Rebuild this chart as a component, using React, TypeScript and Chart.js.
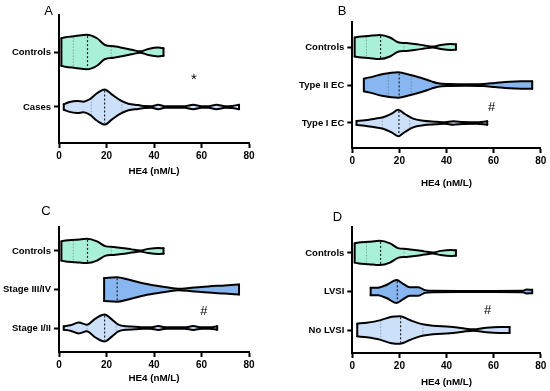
import React, { useEffect, useRef } from "react";
import { Chart, registerables } from "chart.js";

Chart.register(...registerables);
Chart.defaults.font.family = "'Liberation Sans', Arial, sans-serif";

// ---------- data ----------
const xTickValues = [0, 20, 40, 60, 80];
const axisTitle = "HE4 (nM/L)";

// Violin outlines: HE4 values and half-widths (in category units)
const controlsX = [1, 2.7, 6.9, 11.7, 16, 19.4, 23, 26.4, 30.6, 34.1, 37.6, 41.8, 44];
const controlsW = [0.25, 0.27, 0.29, 0.315, 0.25, 0.127, 0.103, 0.079, 0.042, 0.012, 0.055, 0.08, 0.07];
const controlsStats = [6, 12, 22];

const casesX = [2, 4.1, 7.6, 10.3, 13.1, 16, 19.2, 22.2, 25.7, 29.2, 33.4, 36, 39, 41.8, 44.5, 48, 53, 56.5, 60, 63, 66.3, 70, 73, 75.8];
const casesW = [0.05, 0.085, 0.11, 0.097, 0.145, 0.25, 0.32, 0.23, 0.127, 0.06, 0.036, 0.018, 0.015, 0.04, 0.015, 0.012, 0.014, 0.04, 0.015, 0.015, 0.04, 0.015, 0.02, 0.042];
const casesStats = [13.6, 19.2, 26.5];

const type2X = [4.9, 7.5, 13.1, 19.5, 24.4, 29.4, 33.6, 36.4, 41.4, 48.4, 55.5, 60.5, 66.8, 71.7, 76.4];
const type2W = [0.167, 0.2, 0.29, 0.333, 0.27, 0.184, 0.096, 0.044, 0.026, 0.018, 0.026, 0.053, 0.088, 0.096, 0.096];
const type2Stats = [15.3, 19.9, 25];

const type1X = [1.8, 5.4, 9.6, 13.1, 16.7, 19.5, 22.3, 25.8, 30.1, 35.7, 39.3, 42.8, 47, 52.7, 57.3];
const type1W = [0.053, 0.07, 0.114, 0.15, 0.245, 0.35, 0.237, 0.114, 0.06, 0.035, 0.018, 0.045, 0.026, 0.018, 0.044];
const type1Stats = [12.7, 19.8, 24.4];

const stage34X = [19, 24.3, 29.2, 34.8, 40.4, 46, 50.2, 55.8, 62.8, 69.8, 75.8];
const stage34W = [0.3, 0.32, 0.26, 0.17, 0.105, 0.052, 0.02, 0.045, 0.08, 0.105, 0.13];
const stage34Stats = [null, 24.5, null];

const stage12X = [2, 4.8, 8.3, 11.7, 15.2, 19.2, 22.2, 25, 28.5, 32, 35.5, 38.5, 41.8, 45, 49, 53, 56.5, 60, 63.5, 66.6];
const stage12W = [0.043, 0.07, 0.14, 0.087, 0.24, 0.35, 0.225, 0.087, 0.043, 0.035, 0.017, 0.017, 0.05, 0.017, 0.02, 0.017, 0.05, 0.017, 0.017, 0.043];
const stage12Stats = [11.8, 19.2, 24];

const lvsiX = [7.8, 11, 14.5, 18.8, 21.6, 24.4, 28, 30.8, 34.3, 45, 60, 72.5, 73.9, 76.4];
const lvsiW = [0.095, 0.1, 0.17, 0.3, 0.2, 0.11, 0.11, 0.035, 0.017, 0.015, 0.015, 0.017, 0.05, 0.045];
const lvsiStats = [null, 19.1, null];

const noLvsiX = [2.1, 6.1, 11.7, 16.7, 20.2, 24.4, 28.7, 34.3, 41.4, 47, 51.3, 56.9, 62.6, 66.8];
const noLvsiW = [0.165, 0.19, 0.25, 0.345, 0.36, 0.26, 0.165, 0.11, 0.087, 0.043, 0.017, 0.06, 0.078, 0.078];
const noLvsiStats = [12.1, 20.5, 30];

const catsA = ["Controls", "Cases"];
const catsB = ["Controls", "Type II EC", "Type I EC"];
const catsC = ["Controls", "Stage III/IV", "Stage I/II"];
const catsD = ["Controls", "LVSI", "No LVSI"];

const MINT = "#a9f0d8";
const LIGHT = "#cde0f9";
const MID = "#88b6f0";

type Violin = { x: number[]; w: number[]; stats: (number | null)[]; color: string };

const panels = [
  {
    key: "A", cats: catsA, letter: "A", mark: "*", markX: 56.8, markY: 0.5, markSize: 15,
    violins: [
      { x: controlsX, w: controlsW, stats: controlsStats, color: MINT },
      { x: casesX, w: casesW, stats: casesStats, color: LIGHT },
    ] as Violin[],
    left: 0, top: 0, w: 275, h: 195,
    yW: 59, padTop: 15, padRight: 26, xH: 52, titlePad: 18, yMin: -0.673, yMax: 1.655,
    letterPos: [48.5, 11],
  },
  {
    key: "B", cats: catsB, letter: "B", mark: "#", markX: 59.2, markY: 1.58, markSize: 13,
    violins: [
      { x: controlsX, w: controlsW, stats: controlsStats, color: MINT },
      { x: type2X, w: type2W, stats: type2Stats, color: MID },
      { x: type1X, w: type1W, stats: type1Stats, color: LIGHT },
    ] as Violin[],
    left: 275, top: 0, w: 275, h: 195,
    yW: 77.3, padTop: 22, padRight: 9.3, xH: 47, titlePad: 6, yMin: -0.658, yMax: 2.658,
    letterPos: [67, 11],
  },
  {
    key: "C", cats: catsC, letter: "C", mark: "#", markX: 61, markY: 1.56, markSize: 13,
    violins: [
      { x: controlsX, w: controlsW, stats: controlsStats, color: MINT },
      { x: stage34X, w: stage34W, stats: stage34Stats, color: MID },
      { x: stage12X, w: stage12W, stats: stage12Stats, color: LIGHT },
    ] as Violin[],
    left: 0, top: 195, w: 275, h: 196,
    yW: 59, padTop: 32, padRight: 26, xH: 39, titlePad: 7, yMin: -0.623, yMax: 2.623,
    letterPos: [46, 16.7],
  },
  {
    key: "D", cats: catsD, letter: "D", mark: "#", markX: 57.5, markY: 1.48, markSize: 13,
    violins: [
      { x: controlsX, w: controlsW, stats: controlsStats, color: MINT },
      { x: lvsiX, w: lvsiW, stats: lvsiStats, color: MID },
      { x: noLvsiX, w: noLvsiW, stats: noLvsiStats, color: LIGHT },
    ] as Violin[],
    left: 275, top: 195, w: 275, h: 196,
    yW: 77.3, padTop: 32, padRight: 9.3, xH: 38, titlePad: 3, yMin: -0.675, yMax: 2.597,
    letterPos: [62.5, 22.5],
  },
];

function interpW(xs: number[], ws: number[], v: number): number {
  if (v <= xs[0]) return ws[0];
  for (let k = 1; k < xs.length; k++) {
    if (v <= xs[k]) {
      const t = (v - xs[k - 1]) / (xs[k] - xs[k - 1]);
      return ws[k - 1] + t * (ws[k] - ws[k - 1]);
    }
  }
  return ws[ws.length - 1];
}

function buildDatasets(violins: Violin[]) {
  const ds: any[] = [];
  const edge = {
    showLine: true,
    borderColor: "#000",
    borderWidth: 2,
    pointRadius: 0,
    cubicInterpolationMode: "monotone",
    borderCapStyle: "round",
    borderJoinStyle: "round",
    order: 2,
  };
  violins.forEach((v, i) => {
    const upper = v.x.map((x, k) => ({ x, y: i - v.w[k] }));
    const lower = v.x.map((x, k) => ({ x, y: i + v.w[k] }));
    const n = v.x.length - 1;
    // upper edge filled down to the following (lower edge) dataset
    ds.push({ ...edge, data: upper, fill: "+1", backgroundColor: v.color });
    ds.push({ ...edge, data: lower, fill: false });
    // flat end caps
    ds.push({ ...edge, data: [upper[0], lower[0]], fill: false, cubicInterpolationMode: "default" });
    ds.push({ ...edge, data: [upper[n], lower[n]], fill: false, cubicInterpolationMode: "default" });
    v.stats.forEach((s, si) => {
      if (s === null || s === undefined) return;
      const hw = interpW(v.x, v.w, s) * 0.93;
      const median = si === 1;
      ds.push({
        data: [{ x: s, y: i - hw }, { x: s, y: i + hw }],
        showLine: true,
        fill: false,
        borderColor: median ? "#222" : "rgba(60,60,60,0.4)",
        borderWidth: median ? 1.2 : 1,
        borderDash: median ? [2, 2] : [1.5, 1.5],
        pointRadius: 0,
        order: 1,
      });
    });
  });
  return ds;
}

function Panel({ p }: { p: (typeof panels)[number] }) {
  const ref = useRef<HTMLCanvasElement>(null);
  useEffect(() => {
    if (!ref.current) return;
    const axisGrid = {
      display: true,
      drawOnChartArea: false,
      drawTicks: true,
      tickLength: 5,
      tickWidth: 2,
      tickColor: "#000",
    };
    const textPlugin = {
      id: "panelText" + p.key,
      afterDatasetsDraw(chart: any) {
        const ctx = chart.ctx;
        const xs = chart.scales.x;
        const ys = chart.scales.y;
        ctx.save();
        ctx.fillStyle = "#000";
        ctx.textAlign = "center";
        ctx.textBaseline = "middle";
        ctx.font = `${p.markSize}px 'Liberation Sans', Arial, sans-serif`;
        ctx.fillText(p.mark, xs.getPixelForValue(p.markX), ys.getPixelForValue(p.markY));
        ctx.font = "13px 'Liberation Sans', Arial, sans-serif";
        ctx.fillText(p.letter, p.letterPos[0], p.letterPos[1]);
        ctx.restore();
      },
    };
    const chart = new Chart(ref.current, {
      type: "scatter",
      data: { datasets: buildDatasets(p.violins) },
      options: {
        responsive: false,
        animation: false,
        events: [],
        layout: { padding: { left: 0, top: p.padTop, right: p.padRight, bottom: 0 } },
        plugins: {
          legend: { display: false },
          tooltip: { enabled: false },
          filler: { drawTime: "beforeDatasetsDraw" },
        },
        scales: {
          x: {
            type: "linear",
            min: 0,
            max: 80,
            afterBuildTicks: (s: any) => {
              s.ticks = xTickValues.map((v) => ({ value: v }));
            },
            afterFit: (s: any) => {
              s.height = p.xH;
            },
            grid: axisGrid,
            border: { display: true, color: "#000", width: 2 },
            ticks: {
              color: "#000",
              font: { size: 10, weight: "bold" },
              padding: 2,
              maxRotation: 0,
              autoSkip: false,
            },
            title: {
              display: true,
              text: axisTitle,
              color: "#000",
              font: { size: 9.8, weight: "bold" },
              padding: { top: 0, bottom: p.titlePad },
            },
          },
          y: {
            type: "linear",
            reverse: true,
            min: p.yMin,
            max: p.yMax,
            afterBuildTicks: (s: any) => {
              s.ticks = p.cats.map((_, i) => ({ value: i }));
            },
            afterFit: (s: any) => {
              s.width = p.yW;
            },
            grid: axisGrid,
            border: { display: true, color: "#000", width: 2 },
            ticks: {
              color: "#000",
              font: { size: 9.5, weight: "bold" },
              padding: 3,
              autoSkip: false,
              callback: (v: any) => p.cats[Math.round(Number(v))] ?? "",
            },
          },
        },
      } as any,
      plugins: [textPlugin],
    });
    return () => chart.destroy();
  }, [p]);
  return (
    <canvas
      ref={ref}
      width={p.w}
      height={p.h}
      style={{ position: "absolute", left: p.left, top: p.top, width: p.w, height: p.h, display: "block" }}
    />
  );
}

export default function App() {
  return (
    <div style={{ position: "absolute", left: 0, top: 0, width: 550, height: 391, background: "#fff" }}>
      {panels.map((p) => (
        <Panel key={p.key} p={p} />
      ))}
    </div>
  );
}
